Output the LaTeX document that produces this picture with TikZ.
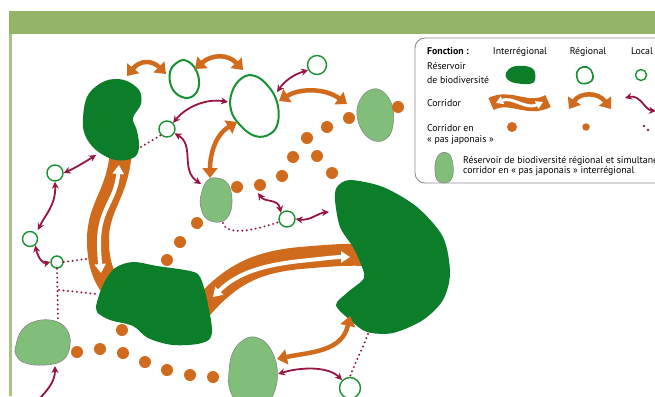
\documentclass[tikz,border=0pt]{standalone}
\usepackage{fontspec}
\setmainfont{PT Sans}
\usetikzlibrary{arrows.meta}
\definecolor{hdr}{RGB}{148,180,104}
\definecolor{hdrline}{RGB}{165,196,125}
\definecolor{dkg}{RGB}{12,126,42}
\definecolor{ltg}{RGB}{128,190,122}
\definecolor{ltgedge}{RGB}{135,135,135}
\definecolor{olg}{RGB}{24,146,48}
\definecolor{orng}{RGB}{208,106,28}
\definecolor{mrn}{RGB}{150,22,62}
\definecolor{boxedge}{RGB}{140,140,140}
\tikzset{
  resv/.style={fill=dkg, draw=none},
  resvlt/.style={fill=ltg, draw=ltgedge, line width=0.6pt},
  resvrg/.style={draw=olg, line width=2pt, fill=white},
  loc/.style={circle, draw=olg, line width=1.4pt, fill=white, inner sep=0pt},
  orarr/.style={draw=orng, line width=4.5pt, {Triangle[width=15pt,length=10pt]}-{Triangle[width=15pt,length=10pt]}},
  mrarr/.style={draw=mrn, line width=1.8pt, {Stealth[width=7pt,length=7pt]}-{Stealth[width=7pt,length=7pt]}},
  mrarrone/.style={draw=mrn, line width=1.8pt, -{Stealth[width=7pt,length=7pt]}},
  mrdot/.style={draw=mrn, line width=2.2pt, line cap=round, dash pattern=on 0pt off 4.5pt},
  band/.style={draw=orng, line width=22pt},
  bandarr/.style={draw=white, line width=4pt, {Triangle[width=11pt,length=9pt]}-{Triangle[width=11pt,length=9pt]}},
  jdot/.style={circle, fill=orng, inner sep=0pt, minimum size=12pt},
  lbl/.style={anchor=base west, font=\fontsize{9.8}{11}\selectfont, inner sep=0pt},
  hd/.style={anchor=base, font=\fontsize{9.8}{11}\selectfont, inner sep=0pt},
}
\begin{document}
\begin{tikzpicture}[x=1pt,y=-1pt]
\useasboundingbox (0,0) rectangle (655,396);
\clip (0,0) rectangle (655,396);
\fill[white] (0,0) rectangle (655,396);
% header and frame
\fill[hdr] (9,11) rectangle (655,34);
\fill[hdrline] (9,34) rectangle (12,396);
% legend box
\draw[boxedge, line width=0.9pt, fill=white, rounded corners=10pt] (415,38) rectangle (700,183);

% interregional corridors (bands)
\coordinate (b1a) at (121,150);
\coordinate (b1m) at (98,240);
\coordinate (b1b) at (110,285);
\draw[band] (b1a) .. controls (118,195) and (98,205) .. (b1m) .. controls (98,262) and (103,275) .. (b1b);
\coordinate (w1a) at (119,165);
\coordinate (w1m) at (99,240);
\coordinate (w1b) at (101,273);
\draw[bandarr] (w1a) .. controls (116,200) and (100,208) .. (w1m) .. controls (99,255) and (100,262) .. (w1b);
\coordinate (b2a) at (200,310);
\coordinate (b2m) at (300,258);
\coordinate (b2b) at (365,255);
\draw[band] (b2a) .. controls (232,272) and (260,262) .. (b2m) .. controls (325,256) and (345,254) .. (b2b);
\coordinate (w2a) at (213,297);
\coordinate (w2m) at (300,261);
\coordinate (w2b) at (350,257);
\draw[bandarr] (w2a) .. controls (238,272) and (265,265) .. (w2m) .. controls (320,259) and (335,257) .. (w2b);

% interregional reservoirs
\fill[resv] plot[smooth cycle, tension=0.6] coordinates {(83,118) (88,95) (105,81) (124,80) (139,90) (141,104) (133,118) (137,131) (139,148) (133,158) (115,160) (96,150) (85,135)};
\fill[resv] plot[smooth cycle, tension=0.55] coordinates {(97,302) (104,283) (115,268) (133,262) (157,266) (190,271) (200,277) (207,300) (212,333) (202,343) (173,345) (148,338) (133,326) (110,320) (97,312)};
\fill[resv] plot[smooth cycle, tension=0.5] coordinates {(335,200) (337,187) (350,180) (383,187) (417,207) (443,237) (450,273) (443,300) (423,320) (393,333) (367,332) (350,320) (336,305) (348,292) (364,278) (360,262) (353,247) (340,227)};

% light green reservoirs
\draw[resvlt] plot[smooth cycle, tension=0.7] coordinates {(360,100) (370,90) (382,91) (392,105) (393,125) (387,138) (375,141) (363,132) (357,115)};
\draw[resvlt] plot[smooth cycle, tension=0.7] coordinates {(201,195) (207,181) (217,178) (228,184) (232,200) (229,215) (220,222) (207,219) (201,208)};
\draw[resvlt] plot[smooth cycle, tension=0.7] coordinates {(16,345) (22,330) (36,321) (55,321) (67,330) (70,345) (63,360) (45,365) (25,363) (16,355)};
\draw[resvlt] plot[smooth cycle, tension=0.7] coordinates {(229,372) (233,352) (245,339) (258,338) (270,348) (277,368) (275,390) (265,402) (240,402) (230,390)};

% regional reservoirs
\draw[resvrg] plot[smooth cycle, tension=0.7] coordinates {(170,72) (178,62) (187,61) (196,70) (199,85) (193,96) (182,97) (172,88)};
\draw[resvrg] plot[smooth cycle, tension=0.7] coordinates {(232,92) (242,78) (255,76) (268,86) (277,102) (278,122) (270,134) (255,136) (240,125) (231,110)};

% stepping-stone dots
\foreach \n/\x/\y in {1/398/107,2/349/118,3/327/127,4/307/138,5/293/157,6/317/156,7/332/173,8/282/176,9/260/185,10/237/187,11/197/223,12/180/242,13/167/260,14/122/330,15/77/352,16/100/349,17/123/353,18/145/362,19/167/370,20/190/375,21/213/377}
  \node[jdot] (j\n) at (\x,\y) {};

% local reservoirs
\node[loc, minimum size=19pt] (c1) at (317,65) {};
\node[loc, minimum size=16pt] (c2) at (167,129) {};
\node[loc, minimum size=16pt] (c3) at (55,173) {};
\node[loc, minimum size=15pt] (c4) at (30,239) {};
\node[loc, minimum size=12pt] (c5) at (57,262) {};
\node[loc, minimum size=16pt] (c6) at (287,219) {};
\node[loc, minimum size=21pt] (c7) at (350,388) {};

% local stepping-stone (dotted)
\coordinate (kd) at (141,147);
\draw[mrdot] (kd) -- (c2.225);
\coordinate (l2s) at (223,223);
\draw[mrdot] (l2s) .. controls (226,235) and (250,232) .. (c6.200);
\coordinate (d3e) at (86,259);
\draw[mrdot] (c5.east) -- (d3e);
\coordinate (d4e) at (58,321);
\draw[mrdot] (c5.south) -- (d4e);
\coordinate (d5a) at (59,290);
\coordinate (d5b) at (96,294);
\draw[mrdot] (d5a) -- (d5b);
\coordinate (bbot) at (368,334);
\draw[mrdot] (bbot) .. controls (362,350) and (354,365) .. (c7.north);

% local corridors (maroon)
\coordinate (r2ne) at (277,92);
\draw[mrarr] (c1.210) .. controls (292,75) and (284,82) .. (r2ne);
\coordinate (r2w) at (228,102);
\draw[mrarr] (r2w) .. controls (205,98) and (185,108) .. (c2.45);
\coordinate (l2nw) at (201,184);
\draw[mrarr] (c2.-30) .. controls (195,145) and (180,170) .. (l2nw);
\coordinate (kbl) at (96,155);
\draw[mrarr] (kbl) .. controls (85,162) and (75,168) .. (c3.east);
\coordinate (c4a) at (38,230);
\draw[mrarr] (c3.south) .. controls (56,205) and (45,215) .. (c4a);
\draw[mrarr] (c4.-50) .. controls (38,258) and (43,264) .. (c5.west);
\coordinate (jd9) at (258,193);
\draw[mrarr] (jd9) .. controls (265,203) and (278,198) .. (c6.north west);
\coordinate (bl) at (329,212);
\draw[mrarr] (c6.east) .. controls (310,221) and (318,213) .. (bl);
\coordinate (l4e) at (278,374);
\draw[mrarr] (l4e) .. controls (300,367) and (328,366) .. (c7.135);
\coordinate (offbl) at (38,400);
\coordinate (l3b) at (55,366);
\draw[mrarrone] (offbl) .. controls (50,388) and (55,380) .. (l3b);

% regional corridors (orange)
\coordinate (ka) at (127,76);
\coordinate (r1w) at (166,74);
\draw[orarr] (ka) .. controls (140,60) and (152,60) .. (r1w);
\coordinate (r1e) at (195,69);
\coordinate (r2n) at (243,70);
\draw[orarr] (r1e) .. controls (212,54) and (228,54) .. (r2n);
\coordinate (r2e) at (279,101);
\coordinate (l1w) at (347,104);
\draw[orarr] (r2e) .. controls (300,88) and (325,88) .. (l1w);
\coordinate (r2s) at (237,122);
\coordinate (l2n) at (210,178);
\draw[orarr] (r2s) .. controls (215,135) and (210,155) .. (l2n);
\coordinate (l4ne) at (277,359);
\coordinate (bsw) at (350,316);
\draw[orarr] (l4ne) .. controls (310,352) and (342,352) .. (bsw);

% ---------------- legend ----------------
\node[lbl, font=\fontsize{9.8}{11}\selectfont\bfseries] (lf) at (427,55) {Fonction :};
\node[hd] (hi) at (520,55) {Interrégional};
\node[hd] (hr) at (588,55) {Régional};
\node[hd] (hl) at (642,55) {Local};
\node[lbl] (lr1) at (427,70) {Réservoir};
\node[lbl] (lr2) at (427,83) {de biodiversité};
\node[lbl] (lc) at (427,106) {Corridor};
\node[lbl] (lp1) at (427,131) {Corridor en};
\node[lbl] (lp2) at (427,142) {« pas japonais »};
\node[lbl] (lt1) at (463,163) {Réservoir de biodiversité régional et simultanément};
\node[lbl] (lt2) at (463,173) {corridor en « pas japonais » interrégional};

\fill[resv] plot[smooth cycle, tension=0.6] coordinates {(506,73) (512,67) (525,66) (534,70) (535,80) (530,84) (515,83) (507,79)};
\draw[resvrg, line width=1.6pt] plot[smooth cycle, tension=0.7] coordinates {(577,72) (583,67) (590,69) (593,78) (588,83) (579,82)};
\node[loc, minimum size=11pt] (lgl) at (641,75) {};

\coordinate (lba) at (491,104);
\coordinate (lbb) at (548,101);
\draw[draw=orng, line width=13pt] (lba) .. controls (510,94) and (528,112) .. (lbb);
\coordinate (lwa) at (496,103);
\coordinate (lwb) at (543,102);
\draw[draw=white, line width=3pt, {Triangle[width=8pt,length=7pt]}-{Triangle[width=8pt,length=7pt]}] (lwa) .. controls (512,96) and (526,110) .. (lwb);
\coordinate (lra) at (569,109);
\coordinate (lrb) at (611,109);
\draw[orarr] (lra) .. controls (580,92) and (598,92) .. (lrb);
\coordinate (lla) at (625,98);
\coordinate (llb) at (656,111);
\draw[mrarr] (lla) .. controls (640,94) and (645,110) .. (llb);

\node[jdot, minimum size=10pt] (lj1) at (512,127) {};
\node[jdot, minimum size=7.5pt] (lj2) at (586,127) {};
\fill[mrn] (644,126) circle (1.4pt) (648,130) circle (1.4pt);
\draw[resvlt] plot[smooth cycle, tension=0.7] coordinates {(436,160) (441,153) (449,154) (453,165) (452,178) (445,183) (437,180) (435,170)};
\end{tikzpicture}
\end{document}
